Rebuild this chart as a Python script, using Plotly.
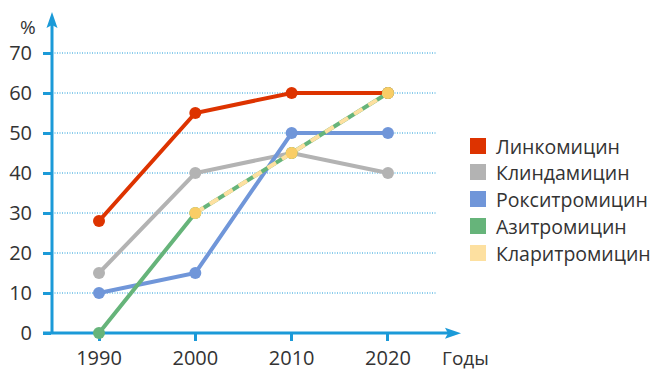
import plotly.graph_objects as go

# Data
years = [1990, 2000, 2010, 2020]
lincomycin = [28, 55, 60, 60]
clindamycin = [15, 40, 45, 40]
roxithromycin = [10, 15, 50, 50]
azithromycin = [0, 30, 45, 60]
clarithro_years = [2000, 2010, 2020]
clarithromycin = [30, 45, 60]

y_ticks = [0, 10, 20, 30, 40, 50, 60, 70]
grid_values = [10, 20, 30, 40, 50, 60, 70]

names = ["Линкомицин", "Клиндамицин", "Рокситромицин", "Азитромицин", "Кларитромицин"]
colors = ["#dd3300", "#b3b3b3", "#7096d9", "#66b47a", "#fde0a0"]

AXIS = "#1b9ad8"
TEXT = "#333333"
FONT = "Open Sans"
TICK_SIZE = 20
LEGEND_SIZE = 19.5
LABEL_SIZE = 19

W, H = 664, 370
L, R, T, B = 52, 206, 14, 37
X_RANGE = [1985.12, 2027.27]
Y_RANGE = [0, 79.75]


def px_to_paper_x(px):
    return (px - L) / (W - L - R)


def px_to_paper_y(py):
    return (H - B - py) / (H - T - B)


fig = go.Figure()

series = [
    (years, lincomycin, colors[0]),
    (years, clindamycin, colors[1]),
    (years, roxithromycin, colors[2]),
    (years, azithromycin, colors[3]),
]
for xs, ys, c in series:
    fig.add_trace(go.Scatter(
        x=xs, y=ys, mode="lines+markers",
        line=dict(color=c, width=4),
        marker=dict(color=c, size=12),
        cliponaxis=False, showlegend=False, hoverinfo="skip",
    ))

# Clarithromycin: dashed overlay on top of the azithromycin line
fig.add_trace(go.Scatter(
    x=clarithro_years, y=clarithromycin, mode="lines",
    line=dict(color=colors[4], width=4, dash="10px,7px"),
    cliponaxis=False, showlegend=False, hoverinfo="skip",
))
fig.add_trace(go.Scatter(
    x=clarithro_years, y=clarithromycin, mode="markers",
    marker=dict(color="#f9cd66", size=12),
    cliponaxis=False, showlegend=False, hoverinfo="skip",
))

shapes = []
# dotted horizontal grid
for g in grid_values:
    shapes.append(dict(
        type="line", xref="x", yref="y", x0=X_RANGE[0], x1=2025.09, y0=g, y1=g,
        line=dict(color=AXIS, width=1, dash="1px,1.5px"), layer="below",
    ))
# axis lines
shapes.append(dict(type="line", xref="paper", yref="paper",
                   x0=px_to_paper_x(43), x1=px_to_paper_x(450),
                   y0=0, y1=0, line=dict(color=AXIS, width=3), layer="below"))
shapes.append(dict(type="line", xref="paper", yref="paper",
                   x0=0, x1=0, y0=0, y1=px_to_paper_y(22),
                   line=dict(color=AXIS, width=3), layer="below"))


def path_px(points):
    parts = []
    for i, (px, py) in enumerate(points):
        parts.append(("M" if i == 0 else "L") + f" {px_to_paper_x(px):.5f} {px_to_paper_y(py):.5f}")
    return " ".join(parts) + " Z"


# arrow heads
shapes.append(dict(type="path", xref="paper", yref="paper",
                   path=path_px([(52, 12), (57.5, 28), (52, 25), (46.5, 28)]),
                   fillcolor=AXIS, line=dict(width=0)))
shapes.append(dict(type="path", xref="paper", yref="paper",
                   path=path_px([(461, 333.3), (445, 327.8), (448, 333.3), (445, 338.8)]),
                   fillcolor=AXIS, line=dict(width=0)))

annotations = [
    dict(text="%", xref="paper", yref="paper", x=px_to_paper_x(28), y=px_to_paper_y(27),
         showarrow=False, font=dict(size=LABEL_SIZE, color=TEXT, family=FONT),
         xanchor="center", yanchor="middle"),
    dict(text="Годы", xref="paper", yref="paper", x=px_to_paper_x(440), y=px_to_paper_y(358),
         showarrow=False, font=dict(size=LABEL_SIZE, color=TEXT, family=FONT),
         xanchor="left", yanchor="middle"),
]

# legend
legend_rows = [146, 172, 199, 226, 253]
for name, c, row in zip(names, colors, legend_rows):
    shapes.append(dict(type="rect", xref="paper", yref="paper",
                       x0=px_to_paper_x(470), x1=px_to_paper_x(486),
                       y0=px_to_paper_y(row + 8), y1=px_to_paper_y(row - 8),
                       fillcolor=c, line=dict(width=0)))
    annotations.append(dict(text=name, xref="paper", yref="paper",
                            x=px_to_paper_x(494), y=px_to_paper_y(row),
                            showarrow=False, font=dict(size=LEGEND_SIZE, color=TEXT, family=FONT),
                            xanchor="left", yanchor="middle"))

fig.update_layout(
    width=W, height=H,
    margin=dict(l=L, r=R, t=T, b=B),
    paper_bgcolor="white", plot_bgcolor="white",
    shapes=shapes, annotations=annotations,
    showlegend=False,
    xaxis=dict(range=X_RANGE, tickvals=years, ticktext=[str(y) for y in years],
               showgrid=False, zeroline=False, showline=False, automargin=False,
               ticks="outside", ticklen=7, tickwidth=3, tickcolor=AXIS,
               tickfont=dict(size=TICK_SIZE, color=TEXT, family=FONT),
               fixedrange=True, layer="below traces"),
    yaxis=dict(range=Y_RANGE, tickvals=y_ticks, ticktext=[str(v) for v in y_ticks],
               showgrid=False, zeroline=False, showline=False, automargin=False,
               ticks="outside", ticklen=8, tickwidth=3, tickcolor=AXIS,
               tickfont=dict(size=TICK_SIZE, color=TEXT, family=FONT),
               ticklabelstandoff=7,
               fixedrange=True, layer="below traces"),
)

fig.write_html("out.html")
